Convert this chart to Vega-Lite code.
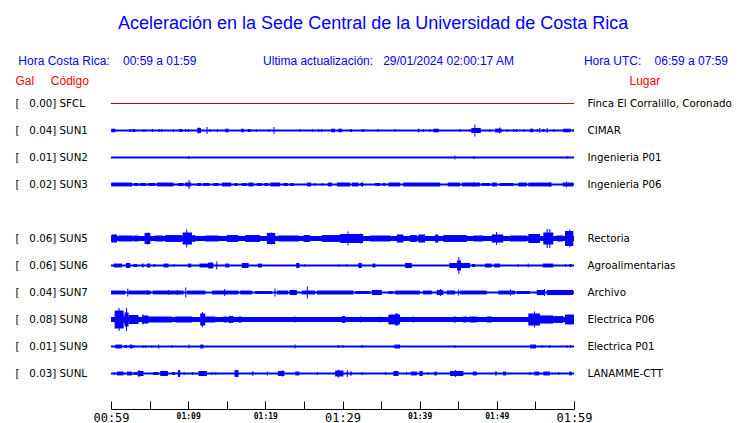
{
  "$schema": "https://vega.github.io/schema/vega-lite/v6.json",
  "width": 463,
  "height": 297,
  "autosize": {"type": "none"},
  "padding": {"left": 111, "top": 90, "right": 166, "bottom": 36},
  "background": "white",
  "config": {"view": {"stroke": null}, "axis": {"grid": false}},
  "title": {
    "text": "Aceleración en la Sede Central de la Universidad de Costa Rica",
    "subtitle": "Hora Costa Rica:\u00a0\u00a0\u00a0\u00a000:59 a 01:59\u00a0\u00a0\u00a0\u00a0\u00a0\u00a0\u00a0\u00a0\u00a0\u00a0\u00a0\u00a0\u00a0\u00a0\u00a0\u00a0\u00a0\u00a0\u00a0\u00a0Ultima actualización:\u00a0\u00a0\u00a029/01/2024 02:00:17 AM\u00a0\u00a0\u00a0\u00a0\u00a0\u00a0\u00a0\u00a0\u00a0\u00a0\u00a0\u00a0\u00a0\u00a0\u00a0\u00a0\u00a0\u00a0\u00a0\u00a0\u00a0Hora UTC:\u00a0\u00a0\u00a0\u00a006:59 a 07:59\u00a0\u00a0\u00a0",
    "anchor": "middle",
    "frame": "bounds",
    "font": "Liberation Sans",
    "fontSize": 18,
    "fontWeight": "normal",
    "color": "#0000ff",
    "subtitleFont": "Liberation Sans",
    "subtitleFontSize": 12,
    "subtitleColor": "#0000ff",
    "subtitlePadding": 23,
    "offset": 7
  },
  "datasets": {
    "stations": [
      {"code": "SFCL", "label": "[\u00a0\u00a0\u00a00.00] SFCL", "lugar": "Finca El Corralillo, Coronado"},
      {"code": "SUN1", "label": "[\u00a0\u00a0\u00a00.04] SUN1", "lugar": "CIMAR"},
      {"code": "SUN2", "label": "[\u00a0\u00a0\u00a00.01] SUN2", "lugar": "Ingenieria P01"},
      {"code": "SUN3", "label": "[\u00a0\u00a0\u00a00.02] SUN3", "lugar": "Ingenieria P06"},
      {"code": "SUN5", "label": "[\u00a0\u00a0\u00a00.06] SUN5", "lugar": "Rectoria"},
      {"code": "SUN6", "label": "[\u00a0\u00a0\u00a00.06] SUN6", "lugar": "Agroalimentarias"},
      {"code": "SUN7", "label": "[\u00a0\u00a0\u00a00.04] SUN7", "lugar": "Archivo"},
      {"code": "SUN8", "label": "[\u00a0\u00a0\u00a00.08] SUN8", "lugar": "Electrica P06"},
      {"code": "SUN9", "label": "[\u00a0\u00a0\u00a00.01] SUN9", "lugar": "Electrica P01"},
      {"code": "SUNL", "label": "[\u00a0\u00a0\u00a00.03] SUNL", "lugar": "LANAMME-CTT"}
    ],
    "bursts": [
      {"code":"SUN1","t0":0.04,"t1":0.56,"amp":12},{"code":"SUN1","t0":2.37,"t1":2.56,"amp":10},{"code":"SUN1","t0":2.76,"t1":3.15,"amp":10},{"code":"SUN1","t0":4.09,"t1":4.22,"amp":10},{"code":"SUN1","t0":4.35,"t1":4.48,"amp":10},{"code":"SUN1","t0":5.31,"t1":5.44,"amp":10},{"code":"SUN1","t0":6.16,"t1":6.29,"amp":10},{"code":"SUN1","t0":6.51,"t1":6.64,"amp":10},{"code":"SUN1","t0":8.03,"t1":8.16,"amp":10},{"code":"SUN1","t0":8.84,"t1":9.23,"amp":10},{"code":"SUN1","t0":9.62,"t1":9.75,"amp":10},{"code":"SUN1","t0":9.97,"t1":10.10,"amp":10},{"code":"SUN1","t0":11.18,"t1":11.66,"amp":17},{"code":"SUN1","t0":11.30,"t1":11.43,"amp":20},{"code":"SUN1","t0":12.38,"t1":12.51,"amp":23},{"code":"SUN1","t0":12.77,"t1":12.90,"amp":10},{"code":"SUN1","t0":13.73,"t1":13.86,"amp":10},{"code":"SUN1","t0":14.80,"t1":15.23,"amp":12},{"code":"SUN1","t0":16.87,"t1":17.22,"amp":12},{"code":"SUN1","t0":17.74,"t1":18.08,"amp":10},{"code":"SUN1","t0":18.78,"t1":18.91,"amp":10},{"code":"SUN1","t0":20.41,"t1":20.54,"amp":10},{"code":"SUN1","t0":21.06,"t1":21.19,"amp":23},{"code":"SUN1","t0":24.42,"t1":24.55,"amp":10},{"code":"SUN1","t0":26.03,"t1":26.16,"amp":10},{"code":"SUN1","t0":26.88,"t1":27.01,"amp":10},{"code":"SUN1","t0":27.23,"t1":27.36,"amp":10},{"code":"SUN1","t0":28.53,"t1":29.05,"amp":12},{"code":"SUN1","t0":29.47,"t1":29.91,"amp":12},{"code":"SUN1","t0":30.99,"t1":31.21,"amp":10},{"code":"SUN1","t0":32.50,"t1":32.63,"amp":10},{"code":"SUN1","t0":32.71,"t1":32.84,"amp":10},{"code":"SUN1","t0":34.52,"t1":34.65,"amp":10},{"code":"SUN1","t0":36.73,"t1":36.86,"amp":10},{"code":"SUN1","t0":39.76,"t1":39.96,"amp":12},{"code":"SUN1","t0":40.40,"t1":40.53,"amp":10},{"code":"SUN1","t0":41.26,"t1":41.39,"amp":10},{"code":"SUN1","t0":41.78,"t1":42.48,"amp":12},{"code":"SUN1","t0":45.14,"t1":45.27,"amp":10},{"code":"SUN1","t0":46.44,"t1":46.57,"amp":10},{"code":"SUN1","t0":46.70,"t1":47.92,"amp":17},{"code":"SUN1","t0":47.09,"t1":47.22,"amp":40},{"code":"SUN1","t0":49.03,"t1":49.16,"amp":10},{"code":"SUN1","t0":49.77,"t1":50.63,"amp":13},{"code":"SUN1","t0":50.29,"t1":50.42,"amp":20},{"code":"SUN1","t0":51.28,"t1":51.41,"amp":10},{"code":"SUN1","t0":52.14,"t1":52.27,"amp":10},{"code":"SUN1","t0":52.49,"t1":52.62,"amp":10},{"code":"SUN1","t0":53.43,"t1":53.56,"amp":10},{"code":"SUN1","t0":54.30,"t1":54.73,"amp":12},{"code":"SUN1","t0":55.17,"t1":55.30,"amp":10},{"code":"SUN1","t0":55.50,"t1":55.63,"amp":17},{"code":"SUN1","t0":55.94,"t1":56.20,"amp":10},{"code":"SUN1","t0":56.46,"t1":56.59,"amp":17},{"code":"SUN1","t0":57.32,"t1":57.45,"amp":10},{"code":"SUN1","t0":58.61,"t1":59.57,"amp":12},{"code":"SUN1","t0":59.91,"t1":60,"amp":10},

      {"code":"SUN2","t0":10.01,"t1":10.14,"amp":10},{"code":"SUN2","t0":44.50,"t1":44.63,"amp":13},{"code":"SUN2","t0":46.96,"t1":47.09,"amp":10},{"code":"SUN2","t0":59.05,"t1":59.18,"amp":10},

      {"code":"SUN3","t0":0.04,"t1":2.72,"amp":13},{"code":"SUN3","t0":2.93,"t1":3.57,"amp":10},{"code":"SUN3","t0":3.79,"t1":4.57,"amp":10},{"code":"SUN3","t0":4.83,"t1":5.74,"amp":10},{"code":"SUN3","t0":5.96,"t1":8.11,"amp":13},{"code":"SUN3","t0":8.68,"t1":9.40,"amp":10},{"code":"SUN3","t0":9.62,"t1":10.40,"amp":13},{"code":"SUN3","t0":10.05,"t1":10.18,"amp":30},{"code":"SUN3","t0":11.14,"t1":11.70,"amp":10},{"code":"SUN3","t0":11.95,"t1":12.73,"amp":10},{"code":"SUN3","t0":13.29,"t1":13.93,"amp":10},{"code":"SUN3","t0":14.37,"t1":15.58,"amp":13},{"code":"SUN3","t0":16.01,"t1":16.36,"amp":10},{"code":"SUN3","t0":16.96,"t1":17.61,"amp":10},{"code":"SUN3","t0":17.82,"t1":18.47,"amp":13},{"code":"SUN3","t0":18.91,"t1":19.55,"amp":10},{"code":"SUN3","t0":19.89,"t1":20.41,"amp":10},{"code":"SUN3","t0":20.63,"t1":21.92,"amp":13},{"code":"SUN3","t0":22.35,"t1":22.92,"amp":10},{"code":"SUN3","t0":23.22,"t1":23.65,"amp":10},{"code":"SUN3","t0":25.38,"t1":25.94,"amp":13},{"code":"SUN3","t0":26.37,"t1":26.50,"amp":10},{"code":"SUN3","t0":27.32,"t1":27.45,"amp":10},{"code":"SUN3","t0":28.10,"t1":28.62,"amp":13},{"code":"SUN3","t0":29.27,"t1":30.99,"amp":13},{"code":"SUN3","t0":31.21,"t1":32.06,"amp":13},{"code":"SUN3","t0":32.30,"t1":32.70,"amp":10},{"code":"SUN3","t0":32.50,"t1":32.63,"amp":17},{"code":"SUN3","t0":34.23,"t1":34.87,"amp":10},{"code":"SUN3","t0":35.22,"t1":35.52,"amp":10},{"code":"SUN3","t0":35.95,"t1":37.46,"amp":13},{"code":"SUN3","t0":37.89,"t1":42.65,"amp":13},{"code":"SUN3","t0":43.64,"t1":45.23,"amp":13},{"code":"SUN3","t0":45.45,"t1":47.82,"amp":13},{"code":"SUN3","t0":46.96,"t1":47.09,"amp":17},{"code":"SUN3","t0":48.04,"t1":49.12,"amp":10},{"code":"SUN3","t0":49.34,"t1":49.99,"amp":13},{"code":"SUN3","t0":50.42,"t1":52.14,"amp":10},{"code":"SUN3","t0":52.78,"t1":53.87,"amp":13},{"code":"SUN3","t0":54.08,"t1":57.11,"amp":13},{"code":"SUN3","t0":56.80,"t1":56.93,"amp":17},{"code":"SUN3","t0":58.53,"t1":59.91,"amp":13},{"code":"SUN3","t0":58.96,"t1":59.09,"amp":20},

      {"code":"SUN5","t0":0,"t1":60,"amp":17},{"code":"SUN5","t0":0.04,"t1":0.78,"amp":27},{"code":"SUN5","t0":0.98,"t1":2.72,"amp":20},{"code":"SUN5","t0":2.89,"t1":3.54,"amp":20},{"code":"SUN5","t0":4.35,"t1":5.09,"amp":37},{"code":"SUN5","t0":4.74,"t1":4.87,"amp":40},{"code":"SUN5","t0":5.74,"t1":6.81,"amp":20},{"code":"SUN5","t0":7.03,"t1":9.19,"amp":23},{"code":"SUN5","t0":9.27,"t1":10.49,"amp":40},{"code":"SUN5","t0":9.75,"t1":9.88,"amp":60},{"code":"SUN5","t0":10.53,"t1":10.92,"amp":23},{"code":"SUN5","t0":12.21,"t1":13.93,"amp":20},{"code":"SUN5","t0":15.02,"t1":16.52,"amp":23},{"code":"SUN5","t0":17.39,"t1":19.33,"amp":23},{"code":"SUN5","t0":20.20,"t1":21.28,"amp":37},{"code":"SUN5","t0":20.72,"t1":20.85,"amp":40},{"code":"SUN5","t0":21.70,"t1":24.29,"amp":20},{"code":"SUN5","t0":24.94,"t1":25.81,"amp":23},{"code":"SUN5","t0":27.32,"t1":30.34,"amp":23},{"code":"SUN5","t0":29.69,"t1":32.67,"amp":30},{"code":"SUN5","t0":30.64,"t1":30.77,"amp":47},{"code":"SUN5","t0":32.28,"t1":32.41,"amp":33},{"code":"SUN5","t0":33.58,"t1":36.17,"amp":20},{"code":"SUN5","t0":37.04,"t1":37.89,"amp":27},{"code":"SUN5","t0":38.76,"t1":39.63,"amp":23},{"code":"SUN5","t0":39.83,"t1":40.70,"amp":27},{"code":"SUN5","t0":42.00,"t1":42.42,"amp":27},{"code":"SUN5","t0":43.07,"t1":46.10,"amp":23},{"code":"SUN5","t0":46.96,"t1":48.25,"amp":20},{"code":"SUN5","t0":49.34,"t1":50.84,"amp":27},{"code":"SUN5","t0":49.90,"t1":50.03,"amp":43},{"code":"SUN5","t0":51.71,"t1":53.87,"amp":20},{"code":"SUN5","t0":54.08,"t1":55.59,"amp":30},{"code":"SUN5","t0":56.02,"t1":57.32,"amp":40},{"code":"SUN5","t0":56.46,"t1":56.59,"amp":63},{"code":"SUN5","t0":56.80,"t1":56.93,"amp":63},{"code":"SUN5","t0":57.76,"t1":58.61,"amp":20},{"code":"SUN5","t0":58.83,"t1":59.91,"amp":50},{"code":"SUN5","t0":59.39,"t1":59.52,"amp":60},

      {"code":"SUN6","t0":0.34,"t1":1.42,"amp":13},{"code":"SUN6","t0":1.94,"t1":2.50,"amp":17},{"code":"SUN6","t0":2.93,"t1":3.37,"amp":10},{"code":"SUN6","t0":4.01,"t1":4.22,"amp":13},{"code":"SUN6","t0":4.66,"t1":5.09,"amp":13},{"code":"SUN6","t0":5.52,"t1":5.74,"amp":10},{"code":"SUN6","t0":6.81,"t1":7.46,"amp":13},{"code":"SUN6","t0":8.11,"t1":8.24,"amp":10},{"code":"SUN6","t0":9.97,"t1":10.40,"amp":13},{"code":"SUN6","t0":11.47,"t1":13.08,"amp":13},{"code":"SUN6","t0":12.60,"t1":13.25,"amp":20},{"code":"SUN6","t0":13.64,"t1":13.77,"amp":27},{"code":"SUN6","t0":14.80,"t1":15.32,"amp":13},{"code":"SUN6","t0":16.96,"t1":17.82,"amp":17},{"code":"SUN6","t0":19.04,"t1":19.55,"amp":13},{"code":"SUN6","t0":24.00,"t1":24.42,"amp":17},{"code":"SUN6","t0":25.07,"t1":25.20,"amp":10},{"code":"SUN6","t0":29.47,"t1":29.60,"amp":8},{"code":"SUN6","t0":30.47,"t1":30.60,"amp":8},{"code":"SUN6","t0":32.06,"t1":32.50,"amp":17},{"code":"SUN6","t0":33.88,"t1":34.27,"amp":13},{"code":"SUN6","t0":38.11,"t1":38.98,"amp":17},{"code":"SUN6","t0":43.85,"t1":46.53,"amp":17},{"code":"SUN6","t0":44.85,"t1":45.36,"amp":33},{"code":"SUN6","t0":45.01,"t1":45.14,"amp":57},{"code":"SUN6","t0":46.79,"t1":47.18,"amp":10},{"code":"SUN6","t0":48.47,"t1":49.34,"amp":13},{"code":"SUN6","t0":49.64,"t1":50.42,"amp":13},{"code":"SUN6","t0":52.71,"t1":52.84,"amp":10},{"code":"SUN6","t0":54.00,"t1":54.13,"amp":13},{"code":"SUN6","t0":55.94,"t1":57.32,"amp":13},{"code":"SUN6","t0":58.83,"t1":58.96,"amp":10},{"code":"SUN6","t0":59.39,"t1":59.70,"amp":10},

      {"code":"SUN7","t0":0,"t1":1.85,"amp":13},{"code":"SUN7","t0":2.11,"t1":2.24,"amp":27},{"code":"SUN7","t0":2.28,"t1":5.14,"amp":13},{"code":"SUN7","t0":5.40,"t1":9.40,"amp":13},{"code":"SUN7","t0":4.66,"t1":4.79,"amp":17},{"code":"SUN7","t0":7.38,"t1":7.51,"amp":17},{"code":"SUN7","t0":8.55,"t1":8.68,"amp":17},{"code":"SUN7","t0":9.62,"t1":9.75,"amp":33},{"code":"SUN7","t0":9.84,"t1":12.21,"amp":13},{"code":"SUN7","t0":13.08,"t1":16.52,"amp":13},{"code":"SUN7","t0":14.67,"t1":14.80,"amp":23},{"code":"SUN7","t0":16.74,"t1":18.26,"amp":13},{"code":"SUN7","t0":18.69,"t1":20.85,"amp":10},{"code":"SUN7","t0":21.19,"t1":21.32,"amp":27},{"code":"SUN7","t0":21.50,"t1":22.96,"amp":13},{"code":"SUN7","t0":23.13,"t1":24.09,"amp":17},{"code":"SUN7","t0":24.73,"t1":26.46,"amp":13},{"code":"SUN7","t0":25.38,"t1":25.51,"amp":40},{"code":"SUN7","t0":26.68,"t1":31.42,"amp":13},{"code":"SUN7","t0":31.64,"t1":33.58,"amp":10},{"code":"SUN7","t0":33.80,"t1":35.09,"amp":17},{"code":"SUN7","t0":35.95,"t1":36.60,"amp":10},{"code":"SUN7","t0":36.82,"t1":40.05,"amp":13},{"code":"SUN7","t0":40.40,"t1":41.57,"amp":13},{"code":"SUN7","t0":42.22,"t1":43.07,"amp":17},{"code":"SUN7","t0":42.64,"t1":42.77,"amp":23},{"code":"SUN7","t0":43.51,"t1":44.59,"amp":13},{"code":"SUN7","t0":44.94,"t1":45.07,"amp":20},{"code":"SUN7","t0":45.23,"t1":48.69,"amp":13},{"code":"SUN7","t0":50.19,"t1":52.36,"amp":13},{"code":"SUN7","t0":51.71,"t1":51.84,"amp":20},{"code":"SUN7","t0":52.58,"t1":54.30,"amp":10},{"code":"SUN7","t0":55.17,"t1":56.24,"amp":17},{"code":"SUN7","t0":56.11,"t1":56.24,"amp":23},{"code":"SUN7","t0":56.46,"t1":59.91,"amp":17},

      {"code":"SUN8","t0":0,"t1":60,"amp":17},{"code":"SUN8","t0":0.47,"t1":1.63,"amp":60},{"code":"SUN8","t0":0.98,"t1":1.11,"amp":77},{"code":"SUN8","t0":1.63,"t1":1.76,"amp":33},{"code":"SUN8","t0":1.76,"t1":2.28,"amp":47},{"code":"SUN8","t0":1.94,"t1":2.07,"amp":77},{"code":"SUN8","t0":2.28,"t1":3.57,"amp":30},{"code":"SUN8","t0":4.01,"t1":4.87,"amp":27},{"code":"SUN8","t0":4.09,"t1":4.22,"amp":33},{"code":"SUN8","t0":4.87,"t1":7.90,"amp":20},{"code":"SUN8","t0":8.33,"t1":10.49,"amp":20},{"code":"SUN8","t0":11.56,"t1":12.21,"amp":40},{"code":"SUN8","t0":11.78,"t1":11.91,"amp":50},{"code":"SUN8","t0":12.21,"t1":13.51,"amp":20},{"code":"SUN8","t0":14.58,"t1":15.02,"amp":20},{"code":"SUN8","t0":15.23,"t1":15.88,"amp":23},{"code":"SUN8","t0":16.52,"t1":16.96,"amp":20},{"code":"SUN8","t0":23.78,"t1":23.91,"amp":20},{"code":"SUN8","t0":29.91,"t1":30.34,"amp":23},{"code":"SUN8","t0":32.28,"t1":32.41,"amp":20},{"code":"SUN8","t0":34.78,"t1":34.91,"amp":20},{"code":"SUN8","t0":35.95,"t1":37.46,"amp":33},{"code":"SUN8","t0":36.82,"t1":37.21,"amp":40},{"code":"SUN8","t0":39.11,"t1":39.24,"amp":20},{"code":"SUN8","t0":44.50,"t1":44.63,"amp":23},{"code":"SUN8","t0":45.66,"t1":46.10,"amp":20},{"code":"SUN8","t0":46.44,"t1":47.40,"amp":20},{"code":"SUN8","t0":48.69,"t1":49.34,"amp":20},{"code":"SUN8","t0":54.08,"t1":55.59,"amp":40},{"code":"SUN8","t0":54.82,"t1":54.95,"amp":53},{"code":"SUN8","t0":55.59,"t1":57.32,"amp":27},{"code":"SUN8","t0":57.32,"t1":58.61,"amp":23},{"code":"SUN8","t0":58.83,"t1":60,"amp":33},

      {"code":"SUN9","t0":0.56,"t1":1.42,"amp":13},{"code":"SUN9","t0":1.76,"t1":2.07,"amp":10},{"code":"SUN9","t0":2.41,"t1":2.80,"amp":13},{"code":"SUN9","t0":2.93,"t1":3.06,"amp":10},{"code":"SUN9","t0":4.09,"t1":4.22,"amp":10},{"code":"SUN9","t0":4.44,"t1":4.57,"amp":10},{"code":"SUN9","t0":5.22,"t1":5.35,"amp":8},{"code":"SUN9","t0":6.09,"t1":6.25,"amp":13},{"code":"SUN9","t0":7.81,"t1":7.94,"amp":10},{"code":"SUN9","t0":10.05,"t1":10.18,"amp":13},{"code":"SUN9","t0":11.56,"t1":11.99,"amp":13},{"code":"SUN9","t0":23.78,"t1":23.91,"amp":13},{"code":"SUN9","t0":29.40,"t1":29.53,"amp":10},{"code":"SUN9","t0":29.99,"t1":30.12,"amp":10},{"code":"SUN9","t0":32.50,"t1":32.63,"amp":10},{"code":"SUN9","t0":36.73,"t1":37.46,"amp":13},{"code":"SUN9","t0":44.50,"t1":44.63,"amp":10},{"code":"SUN9","t0":54.30,"t1":55.08,"amp":13},{"code":"SUN9","t0":55.81,"t1":55.94,"amp":8},{"code":"SUN9","t0":56.80,"t1":56.93,"amp":10},{"code":"SUN9","t0":59.05,"t1":59.18,"amp":10},{"code":"SUN9","t0":59.48,"t1":59.61,"amp":10},

      {"code":"SUNL","t0":0.34,"t1":0.47,"amp":10},{"code":"SUNL","t0":0.78,"t1":1.63,"amp":13},{"code":"SUNL","t0":2.07,"t1":2.72,"amp":13},{"code":"SUNL","t0":2.93,"t1":3.37,"amp":10},{"code":"SUNL","t0":3.44,"t1":4.22,"amp":17},{"code":"SUNL","t0":3.57,"t1":3.70,"amp":23},{"code":"SUNL","t0":5.48,"t1":6.13,"amp":10},{"code":"SUNL","t0":6.38,"t1":7.38,"amp":17},{"code":"SUNL","t0":7.90,"t1":8.29,"amp":10},{"code":"SUNL","t0":8.68,"t1":8.97,"amp":23},{"code":"SUNL","t0":9.40,"t1":9.53,"amp":10},{"code":"SUNL","t0":10.49,"t1":10.62,"amp":10},{"code":"SUNL","t0":11.34,"t1":12.43,"amp":17},{"code":"SUNL","t0":12.99,"t1":13.12,"amp":10},{"code":"SUNL","t0":13.51,"t1":13.64,"amp":10},{"code":"SUNL","t0":16.01,"t1":16.52,"amp":23},{"code":"SUNL","t0":18.26,"t1":18.47,"amp":13},{"code":"SUNL","t0":20.20,"t1":20.33,"amp":13},{"code":"SUNL","t0":21.63,"t1":22.48,"amp":17},{"code":"SUNL","t0":22.18,"t1":22.31,"amp":20},{"code":"SUNL","t0":23.87,"t1":24.42,"amp":13},{"code":"SUNL","t0":26.68,"t1":26.81,"amp":10},{"code":"SUNL","t0":29.05,"t1":30.12,"amp":20},{"code":"SUNL","t0":29.40,"t1":29.53,"amp":27},{"code":"SUNL","t0":30.56,"t1":30.69,"amp":23},{"code":"SUNL","t0":30.99,"t1":31.21,"amp":13},{"code":"SUNL","t0":32.50,"t1":32.63,"amp":10},{"code":"SUNL","t0":35.52,"t1":35.65,"amp":10},{"code":"SUNL","t0":36.60,"t1":37.24,"amp":17},{"code":"SUNL","t0":38.24,"t1":38.37,"amp":10},{"code":"SUNL","t0":38.85,"t1":39.63,"amp":13},{"code":"SUNL","t0":39.96,"t1":40.40,"amp":17},{"code":"SUNL","t0":41.00,"t1":41.13,"amp":10},{"code":"SUNL","t0":41.91,"t1":42.22,"amp":13},{"code":"SUNL","t0":43.94,"t1":45.66,"amp":17},{"code":"SUNL","t0":44.59,"t1":44.72,"amp":23},{"code":"SUNL","t0":46.88,"t1":47.40,"amp":13},{"code":"SUNL","t0":49.77,"t1":49.99,"amp":13},{"code":"SUNL","t0":50.80,"t1":51.19,"amp":13},{"code":"SUNL","t0":54.21,"t1":54.34,"amp":10},{"code":"SUNL","t0":54.86,"t1":55.50,"amp":13},{"code":"SUNL","t0":56.02,"t1":56.89,"amp":13},{"code":"SUNL","t0":57.96,"t1":58.09,"amp":10},{"code":"SUNL","t0":59.39,"t1":59.70,"amp":13}
    ]
  },
  "layer": [
    {
      "data": {"name": "stations"},
      "mark": {"type": "rule"},
      "encoding": {
        "y": {
          "field": "label",
          "type": "nominal",
          "scale": {"type": "point", "padding": 0.5, "domain": ["[\u00a0\u00a0\u00a00.00] SFCL", "[\u00a0\u00a0\u00a00.04] SUN1", "[\u00a0\u00a0\u00a00.01] SUN2", "[\u00a0\u00a0\u00a00.02] SUN3", " ", "[\u00a0\u00a0\u00a00.06] SUN5", "[\u00a0\u00a0\u00a00.06] SUN6", "[\u00a0\u00a0\u00a00.04] SUN7", "[\u00a0\u00a0\u00a00.08] SUN8", "[\u00a0\u00a0\u00a00.01] SUN9", "[\u00a0\u00a0\u00a00.03] SUNL"]},
          "axis": {
            "orient": "left", "domain": false, "ticks": false, "tickSize": 0,
            "labelPadding": 96, "labelAlign": "left", "labelBaseline": "middle",
            "labelFont": "DejaVu Sans", "labelFontSize": 10.3, "labelColor": "black",
            "title": "Gal\u00a0\u00a0\u00a0\u00a0\u00a0Código", "titleColor": "#ff0000", "titleFont": "Liberation Sans",
            "titleFontSize": 12, "titleFontWeight": "normal", "titleAngle": 0, "titleAlign": "left",
            "titleBaseline": "alphabetic", "titleX": -96, "titleY": -6
          }
        },
        "color": {"condition": {"test": "datum.code === 'SFCL'", "value": "#d00000"}, "value": "#0000ff"},
        "strokeWidth": {"condition": {"test": "datum.code === 'SFCL'", "value": 1}, "value": 2}
      }
    },
    {
      "data": {"name": "stations"},
      "mark": {"type": "rule", "strokeOpacity": 0},
      "encoding": {
        "y": {
          "field": "lugar",
          "type": "nominal",
          "scale": {"type": "point", "padding": 0.5, "domain": ["Finca El Corralillo, Coronado", "CIMAR", "Ingenieria P01", "Ingenieria P06", " ", "Rectoria", "Agroalimentarias", "Archivo", "Electrica P06", "Electrica P01", "LANAMME-CTT"]},
          "axis": {
            "orient": "right", "domain": false, "ticks": false, "tickSize": 0,
            "labelPadding": 13, "labelAlign": "left", "labelBaseline": "middle",
            "labelFont": "DejaVu Sans", "labelFontSize": 10.3, "labelColor": "black", "labelLimit": 200,
            "title": "Lugar", "titleColor": "#ff0000", "titleFont": "Liberation Sans",
            "titleFontSize": 12, "titleFontWeight": "normal", "titleAngle": 0, "titleAlign": "left",
            "titleBaseline": "alphabetic", "titleX": 55, "titleY": -6
          }
        }
      }
    },
    {
      "data": {"name": "bursts"},
      "mark": {"type": "bar", "color": "#0000ff"},
      "encoding": {
        "x": {
          "field": "t0",
          "type": "quantitative",
          "scale": {"domain": [0, 60], "nice": false, "zero": false},
          "axis": {
            "values": [0, 5, 10, 15, 20, 25, 30, 35, 40, 45, 50, 55, 60],
            "labelExpr": "datum.value % 10 == 0 ? timeFormat(datetime(2024, 0, 29, 0, 59 + datum.value), '%H:%M') : ''",
            "offset": 22, "tickSize": -8, "tickColor": "black", "tickWidth": 1,
            "domainColor": "black", "domainWidth": 1,
            "labelColor": "black", "labelFont": "DejaVu Sans Mono",
            "labelFontSize": {"condition": {"test": "datum.value % 30 == 0", "value": 12}, "value": 8},
            "labelFontWeight": {"condition": {"test": "datum.value % 30 == 0", "value": "normal"}, "value": "bold"},
            "labelPadding": 11, "labelBaseline": "top", "labelFlush": false, "labelOverlap": false,
            "grid": false, "title": null
          }
        },
        "x2": {"field": "t1"},
        "y": {
          "field": "code",
          "type": "nominal",
          "scale": {"type": "band", "paddingInner": 0, "paddingOuter": 0, "domain": ["SFCL", "SUN1", "SUN2", "SUN3", "SUN4", "SUN5", "SUN6", "SUN7", "SUN8", "SUN9", "SUNL"]},
          "axis": null
        },
        "size": {"field": "amp", "type": "quantitative", "scale": {"domain": [0, 100], "range": [0, 30]}, "legend": null}
      }
    }
  ],
  "resolve": {"scale": {"y": "independent"}, "axis": {"y": "independent"}}
}
